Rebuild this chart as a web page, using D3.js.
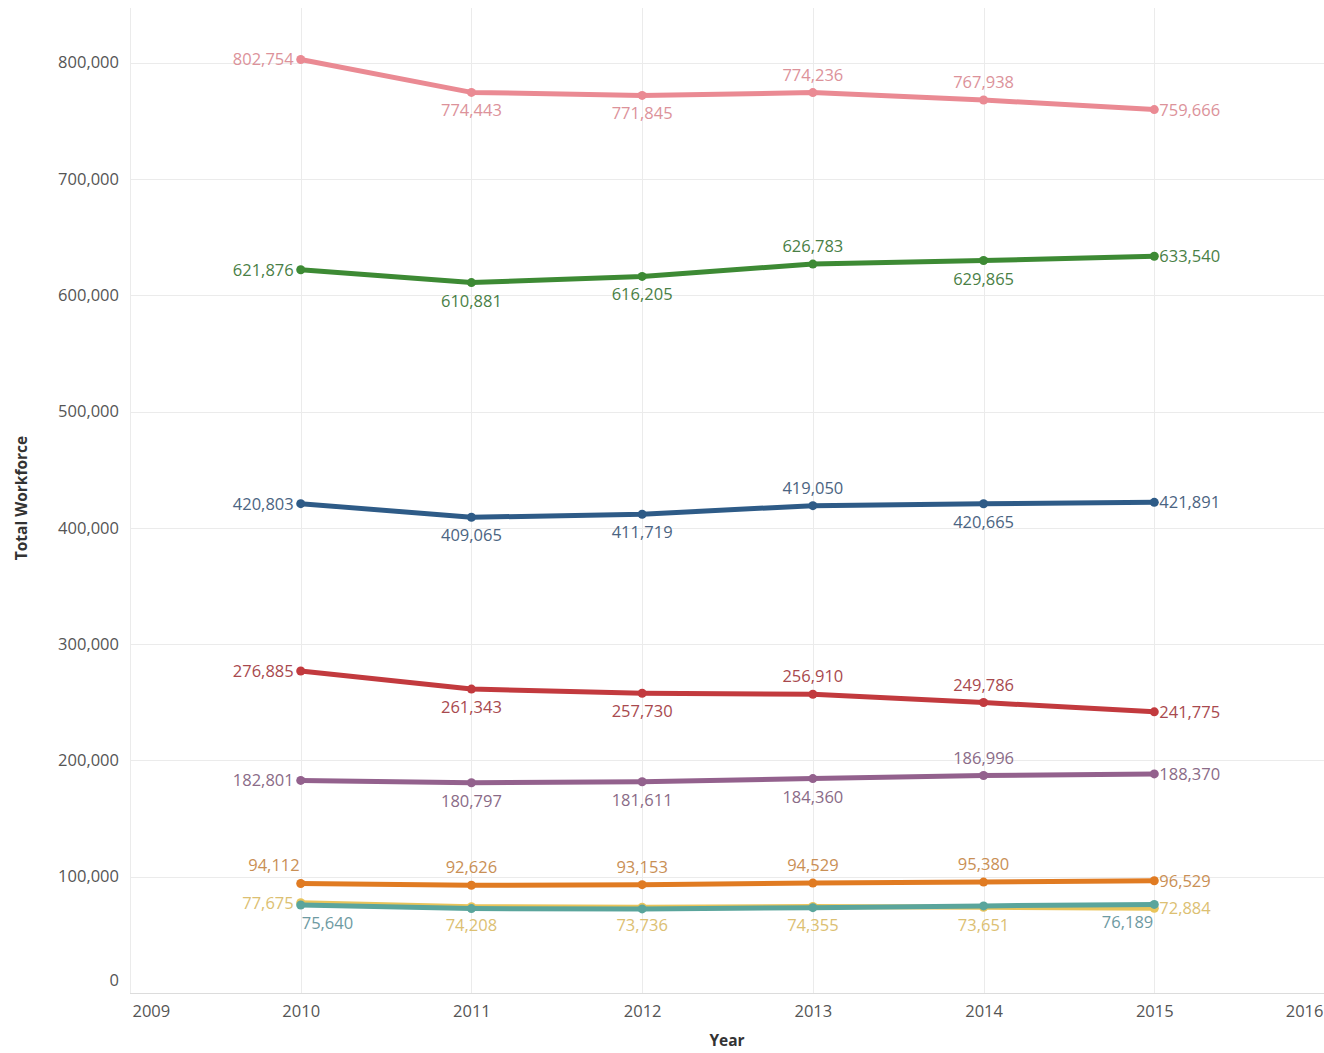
<!DOCTYPE html>
<html><head><meta charset="utf-8">
<script src="https://cdn.jsdelivr.net/npm/d3@7"></script>
<style>
body{margin:0;background:#fff;}
svg text{font-family:"Open Sans",sans-serif;}
</style></head>
<body><svg id="chart" width="1324" height="1053"></svg>
<script>
const years = [2010, 2011, 2012, 2013, 2014, 2015];
const yTicks = [0, 100000, 200000, 300000, 400000, 500000, 600000, 700000, 800000];
const xTicks = [2009, 2010, 2011, 2012, 2013, 2014, 2015, 2016];

const pinkVals   = [802754, 774443, 771845, 774236, 767938, 759666];
const greenVals  = [621876, 610881, 616205, 626783, 629865, 633540];
const blueVals   = [420803, 409065, 411719, 419050, 420665, 421891];
const redVals    = [276885, 261343, 257730, 256910, 249786, 241775];
const purpleVals = [182801, 180797, 181611, 184360, 186996, 188370];
const orangeVals = [94112, 92626, 93153, 94529, 95380, 96529];
const yellowVals = [77675, 74208, 73736, 74355, 73651, 72884];
const tealVals   = [75640, 72600, 72300, 73400, 74900, 76189];

// label placement per point: L=left, R=right, A=above, B=below, AL=above ending at point, BS=below starting at point, BE=below ending at point, N=none
const pinkPos   = ["L","B","B","A","A","R"];
const greenPos  = ["L","B","B","A","B","R"];
const bluePos   = ["L","B","B","A","B","R"];
const redPos    = ["L","B","B","A","A","R"];
const purplePos = ["L","B","B","B","A","R"];
const orangePos = ["AL","A","A","A","A","R"];
const yellowPos = ["L","B","B","B","B","R"];
const tealPos   = ["BS","N","N","N","N","BE"];

const series = [
  {vals: yellowVals, pos: yellowPos, color:"#e9c45a", label:"#dcc072"},
  {vals: tealVals,   pos: tealPos,   color:"#5aa59c", label:"#6e9aa2"},
  {vals: orangeVals, pos: orangePos, color:"#e07b22", label:"#c98f55"},
  {vals: purpleVals, pos: purplePos, color:"#93618d", label:"#8a6b87"},
  {vals: redVals,    pos: redPos,    color:"#c23a3e", label:"#a8494e"},
  {vals: blueVals,   pos: bluePos,   color:"#2e5b87", label:"#4b6482"},
  {vals: greenVals,  pos: greenPos,  color:"#3d8a34", label:"#4a7f46"},
  {vals: pinkVals,   pos: pinkPos,   color:"#ea8a93", label:"#dc929a"}
];

const svg = d3.select("#chart");
const L = 130, R = 1325, T = 8, B = 993;
const x = d3.scaleLinear().domain([2009, 2016]).range([L, R]);
const y = d3.scaleLinear().domain([0, 847000]).range([B, T]);
const fmt = d3.format(",");

// gridlines
svg.append("g").selectAll("line").data(yTicks).join("line")
  .attr("x1", L).attr("x2", R).attr("y1", d=>Math.round(y(d))+0.5).attr("y2", d=>Math.round(y(d))+0.5)
  .attr("stroke", d=> d===0 ? "#dcdcdc" : "#ebebeb").attr("stroke-width",1);
svg.append("g").selectAll("line").data(xTicks).join("line")
  .attr("x1", d=>Math.round(x(d))+0.5).attr("x2", d=>Math.round(x(d))+0.5).attr("y1", T).attr("y2", B)
  .attr("stroke", "#ebebeb").attr("stroke-width",1);

// y axis labels
const yAxis = d3.axisLeft(y).tickValues(yTicks).tickFormat(fmt).tickSize(0).tickPadding(11);
const ya = svg.append("g").attr("transform", `translate(${L},0)`).call(yAxis);
ya.select(".domain").remove();
ya.selectAll("text").attr("font-size", 16.5).attr("fill", "#555").attr("font-family","Open Sans, sans-serif")
  .attr("dy", d => d===0 ? "-0.45em" : "0.32em");

// x axis labels
const xAxis = d3.axisBottom(x).tickValues(xTicks).tickFormat(d3.format("d")).tickSize(0).tickPadding(12);
const xa = svg.append("g").attr("transform", `translate(0,${B})`).call(xAxis);
xa.select(".domain").remove();
xa.selectAll("text").attr("font-size", 16.5).attr("fill", "#555").attr("font-family","Open Sans, sans-serif")
  .attr("text-anchor", d => d===2009 ? "start" : d===2016 ? "end" : "middle")
  .attr("dx", d => d===2009 ? 2 : d===2016 ? -2 : 0);

// axis titles
svg.append("text").attr("x", 727).attr("y", 1046).attr("text-anchor","middle")
  .attr("font-size", 15.5).attr("font-weight","bold").attr("fill","#333").text("Year");
svg.append("text").attr("transform","translate(27,498) rotate(-90)").attr("text-anchor","middle")
  .attr("font-size", 15.5).attr("font-weight","bold").attr("fill","#333").text("Total Workforce");

const line = d3.line().x((d,i)=>x(years[i])).y(d=>y(d));

series.forEach(s => {
  const g = svg.append("g");
  g.append("path").datum(s.vals).attr("d", line).attr("fill","none")
    .attr("stroke", s.color).attr("stroke-width", 5).attr("stroke-linejoin","round");
  g.selectAll("circle").data(s.vals).join("circle")
    .attr("cx", (d,i)=>x(years[i])).attr("cy", d=>y(d)).attr("r", 4.5).attr("fill", s.color);
});

series.forEach(s => {
  const g = svg.append("g");
  s.vals.forEach((v,i) => {
    const p = s.pos[i]; if (p === "N") return;
    const px = x(years[i]), py = y(v);
    let tx = px, ty = py, anchor = "middle";
    if (p === "L") { tx = px - 7; anchor = "end"; ty = py + 6; }
    else if (p === "R") { tx = px + 5; anchor = "start"; ty = py + 6; }
    else if (p === "A") { ty = py - 12; }
    else if (p === "B") { ty = py + 24; }
    else if (p === "AL") { tx = px - 1; anchor = "end"; ty = py - 13; }
    else if (p === "BS") { tx = px + 1; anchor = "start"; ty = py + 24; }
    else if (p === "BE") { tx = px - 1; anchor = "end"; ty = py + 24; }
    g.append("text").attr("x", tx).attr("y", ty).attr("text-anchor", anchor)
      .attr("font-size", 16.5).attr("fill", s.label).text(fmt(v));
  });
});
</script></body></html>
